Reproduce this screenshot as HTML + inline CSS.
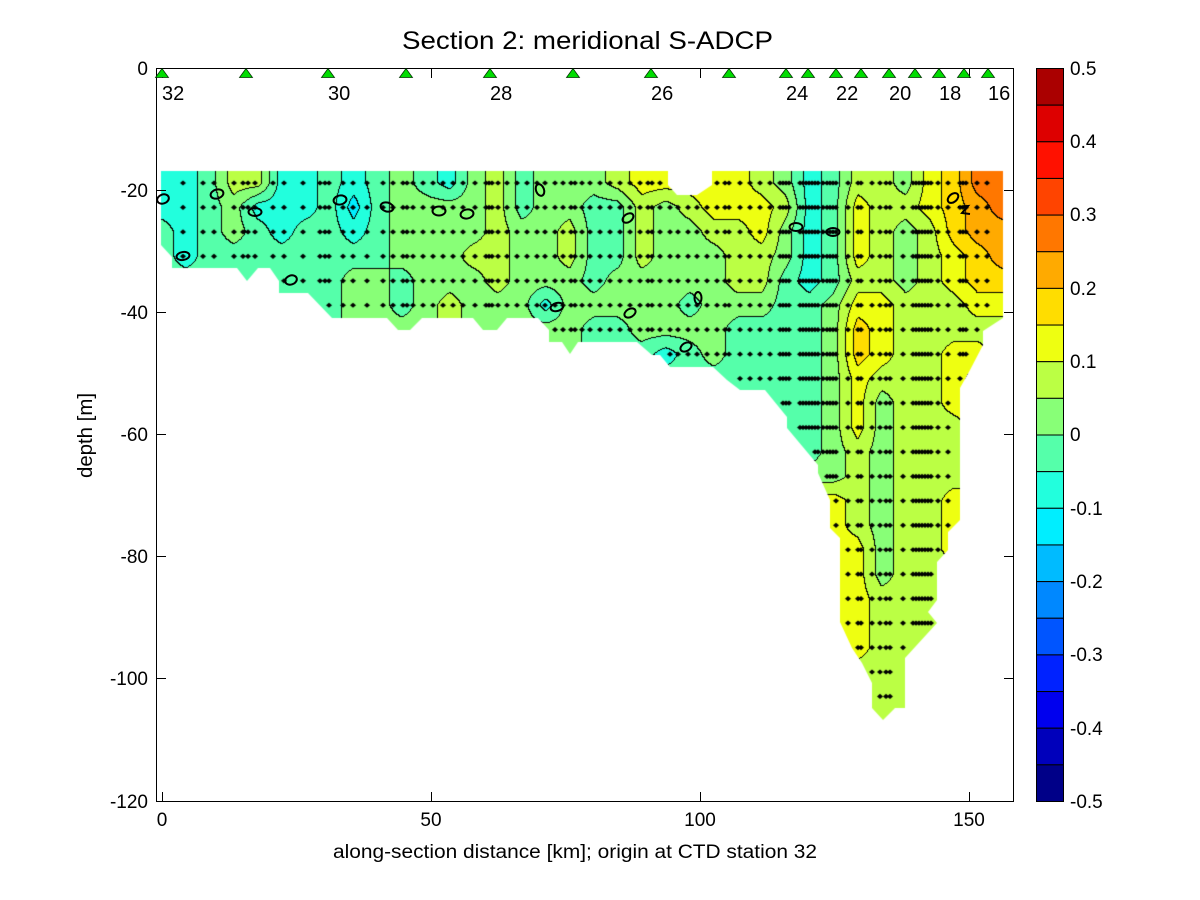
<!DOCTYPE html>
<html>
<head>
<meta charset="utf-8">
<style>
html,body{margin:0;padding:0;background:#fff;}
#wrap{position:relative;width:1200px;height:900px;overflow:hidden;background:#fff;}
#c,#s{position:absolute;left:0;top:0;}
text{font-family:"Liberation Sans",Arial,Helvetica,sans-serif;fill:#000;}
</style>
</head>
<body>
<div id="wrap">
<canvas id="c" width="1200" height="900"></canvas>
<svg id="s" width="1200" height="900" viewBox="0 0 1200 900" xmlns="http://www.w3.org/2000/svg">
  <g fill="none" stroke="#000" stroke-width="2">
    <ellipse cx="163" cy="199" rx="6" ry="4.5" transform="rotate(-20 163 199)"/>
    <ellipse cx="217" cy="194" rx="6.5" ry="4.5" transform="rotate(-15 217 194)"/>
    <ellipse cx="255" cy="212" rx="6.5" ry="4"/>
    <ellipse cx="183" cy="256" rx="6.5" ry="4" transform="rotate(-10 183 256)"/>
    <ellipse cx="291" cy="280" rx="6" ry="4.5" transform="rotate(-20 291 280)"/>
    <ellipse cx="340" cy="200" rx="6.5" ry="4.5" transform="rotate(-10 340 200)"/>
    <ellipse cx="387" cy="207" rx="6.5" ry="4.5" transform="rotate(15 387 207)"/>
    <ellipse cx="439" cy="211" rx="6.5" ry="4.5"/>
    <ellipse cx="467" cy="214" rx="6.5" ry="4.5" transform="rotate(-10 467 214)"/>
    <ellipse cx="540" cy="190" rx="4" ry="6" transform="rotate(-20 540 190)"/>
    <ellipse cx="557" cy="307" rx="6.5" ry="4" transform="rotate(-15 557 307)"/>
    <ellipse cx="628" cy="218" rx="6" ry="4" transform="rotate(-35 628 218)"/>
    <ellipse cx="630" cy="313" rx="6" ry="4" transform="rotate(-30 630 313)"/>
    <ellipse cx="686" cy="347" rx="6" ry="4" transform="rotate(-30 686 347)"/>
    <ellipse cx="698" cy="298" rx="3.5" ry="6"/>
    <ellipse cx="796" cy="227" rx="6.5" ry="4"/>
    <ellipse cx="833" cy="232" rx="6.5" ry="4"/>
    <ellipse cx="953" cy="198" rx="6" ry="4" transform="rotate(-40 953 198)"/>
    <path d="M958 207 L968 206 L962 213 L970 214"/>
  </g>

  <rect x="156.5" y="68.5" width="857" height="733" fill="none" stroke="#000" stroke-width="1"/>
  <g stroke="#000" stroke-width="1">
    <line x1="157" y1="190.5" x2="166" y2="190.5"/><line x1="1004" y1="190.5" x2="1013" y2="190.5"/>
    <line x1="157" y1="312.5" x2="166" y2="312.5"/><line x1="1004" y1="312.5" x2="1013" y2="312.5"/>
    <line x1="157" y1="434.5" x2="166" y2="434.5"/><line x1="1004" y1="434.5" x2="1013" y2="434.5"/>
    <line x1="157" y1="556.5" x2="166" y2="556.5"/><line x1="1004" y1="556.5" x2="1013" y2="556.5"/>
    <line x1="157" y1="678.5" x2="166" y2="678.5"/><line x1="1004" y1="678.5" x2="1013" y2="678.5"/>
    <line x1="162.5" y1="801" x2="162.5" y2="792"/><line x1="162.5" y1="69" x2="162.5" y2="78"/>
    <line x1="431.5" y1="801" x2="431.5" y2="792"/><line x1="431.5" y1="69" x2="431.5" y2="78"/>
    <line x1="700.5" y1="801" x2="700.5" y2="792"/><line x1="700.5" y1="69" x2="700.5" y2="78"/>
    <line x1="969.5" y1="801" x2="969.5" y2="792"/><line x1="969.5" y1="69" x2="969.5" y2="78"/>
  </g>

  <g fill="#00dd00" stroke="#003300" stroke-width="0.8">
    <polygon points="155.5,77.5 168.5,77.5 162,68.5"/>
    <polygon points="239.5,77.5 252.5,77.5 246,68.5"/>
    <polygon points="321.5,77.5 334.5,77.5 328,68.5"/>
    <polygon points="399.5,77.5 412.5,77.5 406,68.5"/>
    <polygon points="483.5,77.5 496.5,77.5 490,68.5"/>
    <polygon points="566.5,77.5 579.5,77.5 573,68.5"/>
    <polygon points="644.5,77.5 657.5,77.5 651,68.5"/>
    <polygon points="722.5,77.5 735.5,77.5 729,68.5"/>
    <polygon points="779.5,77.5 792.5,77.5 786,68.5"/>
    <polygon points="801.5,77.5 814.5,77.5 808,68.5"/>
    <polygon points="829.5,77.5 842.5,77.5 836,68.5"/>
    <polygon points="854.5,77.5 867.5,77.5 861,68.5"/>
    <polygon points="882.5,77.5 895.5,77.5 889,68.5"/>
    <polygon points="908.5,77.5 921.5,77.5 915,68.5"/>
    <polygon points="932.5,77.5 945.5,77.5 939,68.5"/>
    <polygon points="957.5,77.5 970.5,77.5 964,68.5"/>
    <polygon points="981.5,77.5 994.5,77.5 988,68.5"/>
  </g>

  <g font-size="20">
    <text x="162" y="100">32</text>
    <text x="328" y="100">30</text>
    <text x="490" y="100">28</text>
    <text x="651" y="100">26</text>
    <text x="786" y="100">24</text>
    <text x="836" y="100">22</text>
    <text x="889" y="100">20</text>
    <text x="939" y="100">18</text>
    <text x="988" y="100">16</text>
  </g>

  <g font-size="19" text-anchor="end">
    <text x="148" y="75">0</text>
    <text x="148" y="197">-20</text>
    <text x="148" y="319">-40</text>
    <text x="148" y="441">-60</text>
    <text x="148" y="563">-80</text>
    <text x="148" y="685">-100</text>
    <text x="148" y="808">-120</text>
  </g>
  <g font-size="19" text-anchor="middle">
    <text x="162" y="826">0</text>
    <text x="431" y="826">50</text>
    <text x="700" y="826">100</text>
    <text x="969" y="826">150</text>
  </g>

  <text x="587.5" y="49" font-size="25" text-anchor="middle" textLength="371" lengthAdjust="spacingAndGlyphs">Section 2: meridional S-ADCP</text>
  <text x="575" y="858" font-size="19" text-anchor="middle" textLength="484" lengthAdjust="spacingAndGlyphs">along-section distance [km]; origin at CTD station 32</text>
  <text transform="translate(92,435.5) rotate(-90)" font-size="20" text-anchor="middle" textLength="85" lengthAdjust="spacingAndGlyphs">depth [m]</text>

  <g stroke="#000" stroke-width="1">
    <rect x="1036.5" y="68.5" width="27" height="36.65" fill="#aa0000"/>
    <rect x="1036.5" y="105.15" width="27" height="36.65" fill="#dd0000"/>
    <rect x="1036.5" y="141.8" width="27" height="36.65" fill="#ff1100"/>
    <rect x="1036.5" y="178.45" width="27" height="36.65" fill="#ff4400"/>
    <rect x="1036.5" y="215.1" width="27" height="36.65" fill="#ff7700"/>
    <rect x="1036.5" y="251.75" width="27" height="36.65" fill="#ffaa00"/>
    <rect x="1036.5" y="288.4" width="27" height="36.65" fill="#ffdd00"/>
    <rect x="1036.5" y="325.05" width="27" height="36.65" fill="#eeff11"/>
    <rect x="1036.5" y="361.7" width="27" height="36.65" fill="#bbff44"/>
    <rect x="1036.5" y="398.35" width="27" height="36.65" fill="#88ff77"/>
    <rect x="1036.5" y="435" width="27" height="36.65" fill="#55ffaa"/>
    <rect x="1036.5" y="471.65" width="27" height="36.65" fill="#22ffdd"/>
    <rect x="1036.5" y="508.3" width="27" height="36.65" fill="#00eeff"/>
    <rect x="1036.5" y="544.95" width="27" height="36.65" fill="#00bbff"/>
    <rect x="1036.5" y="581.6" width="27" height="36.65" fill="#0088ff"/>
    <rect x="1036.5" y="618.25" width="27" height="36.65" fill="#0055ff"/>
    <rect x="1036.5" y="654.9" width="27" height="36.65" fill="#0022ff"/>
    <rect x="1036.5" y="691.55" width="27" height="36.65" fill="#0000ee"/>
    <rect x="1036.5" y="728.2" width="27" height="36.65" fill="#0000bb"/>
    <rect x="1036.5" y="764.85" width="27" height="36.65" fill="#000088"/>
  </g>
  <g font-size="19">
    <text x="1070" y="75">0.5</text>
    <text x="1070" y="148">0.4</text>
    <text x="1070" y="221">0.3</text>
    <text x="1070" y="295">0.2</text>
    <text x="1070" y="368">0.1</text>
    <text x="1070" y="441">0</text>
    <text x="1070" y="515">-0.1</text>
    <text x="1070" y="588">-0.2</text>
    <text x="1070" y="661">-0.3</text>
    <text x="1070" y="735">-0.4</text>
    <text x="1070" y="808">-0.5</text>
  </g>
</svg>
</div>
<script>
(function(){
var A27="AAAAAAAAAAAAAAAAAAAAAAAAAAA";
var A28=A27+"A";
var R=[
"TTAYYTTATAGATGYAGGGYWWWWWYGTAYYGWOPP",
"TTAGTTTACAGGGGYAGGAAYGYWWWYTAWYYWORP",
"ATAGATAATAGGGGYGGYAAYGGYYWGTAWYGYORR",
"ATAAAAAAAAGGGYYGGYAAYGGGYYGTAWYGYWOR",
"AAAAAAAAGGAGGGYGGGAGGGGGYYATAYYGYWOO",
"AAAAAAAAGGAGYGGGTGGGGGAGGGAAGWWYYYWW",
"AAAAAAAAGGGGYGGGGGAAGGGGAAAAGOWYYYYY",
"AAAAAAAAAAAAAAAAGGAAATAGAAAAGOWYYWWY",
A28+"GWYYYWOY",
A28+"GWGYYWWW",
A28+"GWGYYYWW",
A28+"GYGYYYYY",
A27+"GGYGYYYYY",
A27+"WWYGYYWWW",
A27+"WWYGYYWWW",
A27+"WWWGYYWWW",
A27+"WWWGYYYYY",
A27+"WWWYYYYYY",
A27+"WWWYYYYYY",
A27+"WWWYYYYYY",
A27+"WWYYYYYYY",
A27+"YYYYYYYYY"
];
var V={C:-0.125,T:-0.075,A:-0.025,G:0.025,Y:0.075,W:0.125,O:0.175,R:0.225,P:0.275};
var NC=36,NR=R.length;
var grid=R.map(function(s){var a=[];for(var i=0;i<NC;i++){var ch=s.charAt(i)||'A';a.push(V[ch]);}return a;});
function f(px,py){
  var fx=(px-162)/24, fy=(py-183)/24.45;
  if(fx<0)fx=0; if(fx>NC-1)fx=NC-1;
  if(fy<0)fy=0; if(fy>NR-1)fy=NR-1;
  var i=Math.min(NC-2,Math.floor(fx)), k=Math.min(NR-2,Math.floor(fy));
  var tx=fx-i, ty=fy-k;
  return (grid[k][i]*(1-tx)+grid[k][i+1]*tx)*(1-ty)+(grid[k+1][i]*(1-tx)+grid[k+1][i+1]*tx)*ty;
}
var cols=['#000088','#0000bb','#0000ee','#0022ff','#0055ff','#0088ff','#00bbff','#00eeff','#22ffdd','#55ffaa','#88ff77','#bbff44','#eeff11','#ffdd00','#ffaa00','#ff7700','#ff4400','#ff1100','#dd0000','#aa0000'];
var rgb=cols.map(function(h){return [parseInt(h.substr(1,2),16),parseInt(h.substr(3,2),16),parseInt(h.substr(5,2),16)];});
var cv=document.getElementById('c'); var ctx=cv.getContext('2d');
var X0=150,Y0=160,W=870,H=580;
var B=new Int8Array((W+1)*(H+1));
for(var y=0;y<=H;y++){for(var x=0;x<=W;x++){
  var v=f(X0+x+0.5,Y0+y+0.5);
  var b=Math.floor((v+0.5)/0.05+1e-9); if(b<0)b=0; if(b>19)b=19;
  B[y*(W+1)+x]=b;
}}
var off=document.createElement('canvas'); off.width=W; off.height=H;
var o=off.getContext('2d'); var img=o.createImageData(W,H); var d=img.data;
for(var y=0;y<H;y++){for(var x=0;x<W;x++){
  var p=y*(W+1)+x; var b=B[p]; var q=(y*W+x)*4;
  if(b!==B[p+1]||b!==B[p+W+1]){d[q]=0;d[q+1]=0;d[q+2]=0;}
  else{var c=rgb[b];d[q]=c[0];d[q+1]=c[1];d[q+2]=c[2];}
  d[q+3]=255;
}}
o.putImageData(img,0,0);
var P=[[161,171],[668,171],[668,185],[677,195],[697,195],[712,185],[712,171],[1003,171],[1003,318],[983,331],[983,345],[970,370],[960,388],[960,520],[948,532],[948,550],[937,562],[937,600],[928,612],[937,623],[905,658],[905,708],[895,708],[883,720],[872,708],[872,683],[862,663],[852,648],[840,622],[840,538],[830,528],[830,500],[818,473],[818,465],[787,428],[787,417],[765,390],[740,390],[727,380],[713,367],[670,367],[660,355],[652,355],[637,342],[578,342],[570,354],[562,342],[549,342],[549,330],[538,318],[507,318],[497,330],[483,330],[473,318],[422,318],[410,330],[398,330],[387,318],[332,318],[308,293],[279,293],[279,281],[270,268],[258,268],[247,281],[237,268],[172,268],[172,257],[161,245]];
var mask=new Path2D();
P.forEach(function(pt,i){if(i)mask.lineTo(pt[0],pt[1]);else mask.moveTo(pt[0],pt[1]);});
mask.closePath();
ctx.save(); ctx.clip(mask); ctx.drawImage(off,X0,Y0); ctx.restore();
var DX=[163,183,203,214,234,243,248,255,273,284,303,320,325,329,343,353,367,383,393,403,407,413,423,433,443,453,463,475,486,489,492,498,507,517,527,537,545,555,563,571,575,582,590,600,610,620,630,640,648,652,660,670,678,688,697,707,717,725,729,740,750,760,770,780,783,786,789,800,803,806,809,812,815,818,823,827,830,833,836,848,858,861,872,880,886,890,903,913,916,919,922,925,928,931,938,948,960,963,966,977,987];
function inside(x,y){return ctx.isPointInPath(mask,x,y);}
ctx.fillStyle='#000';
for(var k=0;k<NR;k++){
  var yy=183+24.45*k;
  for(var j=0;j<DX.length;j++){
    var xx=DX[j];
    if(inside(xx-5,yy)&&inside(xx+5,yy)&&inside(xx,yy+6)&&inside(xx,yy-6)){
      ctx.beginPath();
      ctx.moveTo(xx,yy-2.6);ctx.lineTo(xx+3,yy);ctx.lineTo(xx,yy+2.6);ctx.lineTo(xx-3,yy);
      ctx.closePath();ctx.fill();
    }
  }
}
})();
</script>
</body>
</html>
